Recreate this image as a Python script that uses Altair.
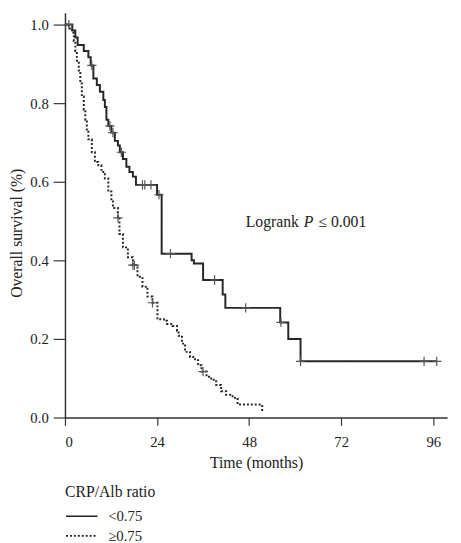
import altair as alt
import pandas as pd

groups = ["<0.75", "≥0.75"]

# Kaplan-Meier steps, group <0.75 (time in months, survival)
solid_t = [0, 1.9, 2.7, 3.3, 4.9, 6.1, 6.7, 7.4, 8.3, 9.1, 10.0, 10.4, 10.8, 11.3, 12.1, 13.0, 13.8,
           14.3, 15.1, 16.0, 16.8, 17.7, 18.5, 24.0, 25.2, 33.0, 33.6, 36.0, 41.1, 41.8, 56.1, 58.2,
           61.4, 96.9]
solid_s = [1.0, 0.985, 0.967, 0.948, 0.933, 0.917, 0.896, 0.863, 0.846, 0.829, 0.808, 0.790, 0.758,
           0.742, 0.725, 0.704, 0.692, 0.675, 0.658, 0.638, 0.625, 0.613, 0.592, 0.567, 0.417, 0.400,
           0.392, 0.350, 0.313, 0.279, 0.242, 0.200, 0.143, 0.143]

# Kaplan-Meier steps, group >=0.75
dotted_t = [0, 1.0, 1.9, 2.3, 2.7, 3.1, 3.6, 4.0, 4.4, 4.9, 5.3, 5.7, 6.1, 7.0, 7.8, 8.7, 9.5, 10.4,
            11.3, 12.1, 12.5, 13.8, 14.2, 15.1, 16.4, 17.7, 18.9, 20.2, 21.5, 22.8, 24.1, 25.8, 26.6,
            28.0, 29.2, 29.6, 30.5, 31.3, 32.6, 33.9, 34.7, 35.6, 36.9, 38.1, 39.4, 40.7, 42.0, 43.7,
            45.0, 51.4]
dotted_s = [1.0, 0.99, 0.979, 0.958, 0.933, 0.908, 0.883, 0.85, 0.817, 0.783, 0.758, 0.733, 0.708,
            0.675, 0.65, 0.642, 0.625, 0.608, 0.575, 0.55, 0.533, 0.508, 0.467, 0.433, 0.408, 0.388,
            0.358, 0.333, 0.308, 0.292, 0.25, 0.246, 0.238, 0.233, 0.221, 0.208, 0.188, 0.167, 0.154,
            0.146, 0.133, 0.117, 0.104, 0.096, 0.083, 0.067, 0.058, 0.05, 0.033, 0.0125]

# censored observation times
solid_cens = [1.0, 7.0, 11.7, 12.5, 14.7, 20.2, 20.8, 22.4, 24.5, 27.5, 39.0, 47.1, 56.3, 61.4, 93.6, 96.9]
dotted_cens = [13.8, 17.7, 18.1, 22.8, 36.0]

x_ticks = [0, 24, 48, 72, 96]
y_ticks = [0.0, 0.2, 0.4, 0.6, 0.8, 1.0]


def surv_at(ts, ss, t):
    v = ss[0]
    for ti, si in zip(ts, ss):
        if ti <= t:
            v = si
    return v


curve = pd.concat([
    pd.DataFrame({"time": solid_t, "surv": solid_s, "group": groups[0]}),
    pd.DataFrame({"time": dotted_t, "surv": dotted_s, "group": groups[1]}),
])
cens = pd.DataFrame(
    [{"time": t, "surv": surv_at(solid_t, solid_s, t), "group": groups[0]} for t in solid_cens]
    + [{"time": t, "surv": surv_at(dotted_t, dotted_s, t), "group": groups[1]} for t in dotted_cens]
)

SERIF = "Liberation Serif"
xs = alt.Scale(domain=[0, 99.6], nice=False, zero=False)
ys = alt.Scale(domain=[0, 1.03], nice=False, zero=False)

x_axis = alt.Axis(values=x_ticks, tickSize=8, labelPadding=10, title="Time (months)", titlePadding=5)
y_axis = alt.Axis(values=y_ticks, format=".1f", tickSize=12, labelPadding=5,
                  title="Overall survival (%)", titleX=-44, titleY=224, titleAngle=270,
                  titleAlign="center", titleBaseline="alphabetic")

lines = alt.Chart(curve).mark_line(interpolate="step-after", strokeWidth=2, color="#262626").encode(
    x=alt.X("time:Q", scale=xs, axis=x_axis),
    y=alt.Y("surv:Q", scale=ys, axis=y_axis),
    strokeDash=alt.StrokeDash(
        "group:N",
        scale=alt.Scale(domain=groups, range=[[1, 0], [2, 2]]),
        legend=alt.Legend(
            title="CRP/Alb ratio", orient="none", legendX=0, legendY=480, direction="vertical",
            symbolType="M-1,0H4", symbolSize=164, symbolStrokeWidth=1.6, symbolStrokeColor="#222",
            labelOffset=29, rowPadding=4, titlePadding=9,
            titleFont=SERIF, titleFontSize=16, titleFontWeight="normal", titleColor="#222",
            labelFont=SERIF, labelFontSize=15, labelColor="#222",
        ),
    ),
    detail="group:N",
)

marks = alt.Chart(cens).mark_point(
    shape="M-1,0L1,0M0,-1L0,1", size=90, filled=False, stroke="#555", strokeWidth=1.2, opacity=1
).encode(
    x=alt.X("time:Q", scale=xs),
    y=alt.Y("surv:Q", scale=ys),
)

txt_style = dict(font=SERIF, fontSize=16, color="#222", align="left", baseline="alphabetic")
t1 = alt.Chart().mark_text(text="Logrank", **txt_style).encode(x=alt.value(184), y=alt.value(218))
t2 = alt.Chart().mark_text(text="P", fontStyle="italic", **txt_style).encode(x=alt.value(243), y=alt.value(218))
t3 = alt.Chart().mark_text(text="≤ 0.001", **txt_style).encode(x=alt.value(258), y=alt.value(218))

chart = alt.layer(lines, marks, t1, t2, t3).properties(
    width=389, height=412,
    autosize=alt.AutoSizeParams(type="none"),
    padding={"left": 58, "top": 0, "right": 6, "bottom": 130},
).configure_view(stroke=None).configure_axis(
    grid=False, domainColor="#333", domainWidth=1.5, tickColor="#333", tickWidth=1.2,
    labelFont=SERIF, labelFontSize=15, labelColor="#222",
    titleFont=SERIF, titleFontSize=16, titleFontWeight="normal", titleColor="#222",
)

chart.save("out.html", embed_options={"renderer": "svg", "actions": False})
